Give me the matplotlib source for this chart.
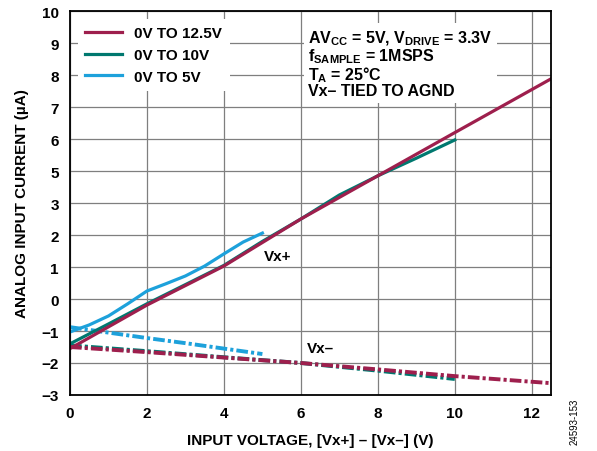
import matplotlib
matplotlib.use("Agg")
from matplotlib import pyplot as plt
import numpy as np

plt.rcParams['font.family'] = ['Liberation Sans', 'DejaVu Sans']
plt.rcParams['font.weight'] = 'bold'
plt.rcParams['axes.labelweight'] = 'bold'
plt.rcParams['mathtext.fontset'] = 'custom'
plt.rcParams['mathtext.rm'] = 'Liberation Sans:bold'
plt.rcParams['mathtext.it'] = 'Liberation Sans:bold'
plt.rcParams['mathtext.bf'] = 'Liberation Sans:bold'

# y values are in grid units of the drawn scale (ticks -3..9, labelled as in the datasheet)
ytick_pos = list(range(-3, 10))
ytick_labels = ["\u22123", "\u22122", "\u22121", "0", "1", "2", "3", "5", "6", "7", "8", "9", "10"]
xticks = [0, 2, 4, 6, 8, 10, 12]

# Vx+ curves
v125_x = [0, 2, 4, 6, 8, 10, 12.5]
v125_pos = [-1.55, -0.19, 1.03, 2.5, 3.85, 5.2, 6.88]
v10_x = [0, 1, 2, 3, 4, 5, 6, 7, 8, 9, 10]
v10_pos = [-1.4, -0.78, -0.15, 0.45, 1.05, 1.8, 2.5, 3.25, 3.85, 4.4, 4.97]
v5_x = [0, 0.5, 1, 1.5, 2, 2.5, 3, 3.5, 4, 4.5, 5]
v5_pos = [-1.03, -0.81, -0.53, -0.15, 0.25, 0.48, 0.72, 1.03, 1.41, 1.78, 2.06]

# Vx- curves
m125_x = [0, 2, 4, 6, 8, 10, 12.5]
m125_pos = [-1.5, -1.66, -1.83, -2.0, -2.2, -2.41, -2.63]
m10_x = [0, 2, 4, 6, 8, 10]
m10_pos = [-1.45, -1.63, -1.82, -2.0, -2.24, -2.5]
m5_x = [0, 1, 2, 3, 4, 5]
m5_pos = [-0.88, -1.05, -1.22, -1.38, -1.55, -1.72]

c125 = '#9E1F4D'
c10 = '#00786F'
c5 = '#1DA1DB'
dashdot = (0, (3, 0.8, 0.8, 0.8))
fs = 11

fig = plt.figure(figsize=(5.97, 4.52), dpi=100)
ax = fig.add_axes([70 / 597, 1 - 396 / 452, 481 / 597, 384 / 452])

ax.plot(m5_x, m5_pos, color=c5, lw=2.8, ls=dashdot)
ax.plot(m10_x, m10_pos, color=c10, lw=2.8, ls=dashdot)
ax.plot(m125_x, m125_pos, color=c125, lw=2.8, ls=dashdot)
ax.plot(v5_x, v5_pos, color=c5, lw=2.3, label="0V TO 5V")
ax.plot(v10_x, v10_pos, color=c10, lw=2.3, label="0V TO 10V")
ax.plot(v125_x, v125_pos, color=c125, lw=2.3, label="0V TO 12.5V")

ax.set_xlim(0, 12.5)
ax.set_ylim(-3, 9)
ax.set_xticks(xticks)
ax.set_yticks(ytick_pos)
ax.set_yticklabels(ytick_labels)
ax.tick_params(length=0, labelsize=fs, pad=8)
for t in ax.get_xticklabels() + ax.get_yticklabels():
    t.set_fontweight('bold')
ax.grid(True, color='#7f7f7f', lw=0.9)
ax.set_axisbelow(True)
for s in ax.spines.values():
    s.set_linewidth(1.3)

h, l = ax.get_legend_handles_labels()
leg = ax.legend(h[::-1], l[::-1], loc='upper left', bbox_to_anchor=(0.0, 1.0),
                prop={'size': fs, 'weight': 'bold'}, frameon=True,
                handlelength=2.4, handletextpad=0.8,
                labelspacing=0.5, borderaxespad=0.5, borderpad=0.5)
leg.get_frame().set_edgecolor('none')
leg.get_frame().set_facecolor('white')
leg.get_frame().set_alpha(1)

ax.text(6.19, 8.45,
        "AV$_\\mathrm{CC}$ = 5V, V$_\\mathrm{DRIVE}$ = 3.3V\n"
        "f$_\\mathrm{SAMPLE}$ = 1MSPS\n"
        "T$_\\mathrm{A}$ = 25\u00b0C\n"
        "Vx\u2013 TIED TO AGND",
        fontsize=11.5, fontweight='bold', va='top', ha='left', linespacing=0.95,
        bbox=dict(facecolor='white', edgecolor='none', pad=3))

ax.text(5.03, 1.34, "Vx+", fontsize=fs, fontweight='bold', ha='left', va='center')
ax.text(6.15, -1.53, "Vx\u2013", fontsize=fs, fontweight='bold', ha='left', va='center')

ax.set_xlabel("INPUT VOLTAGE, [Vx+] \u2013 [Vx\u2013] (V)", fontsize=fs, labelpad=9)
ax.set_ylabel("ANALOG INPUT CURRENT (\u00b5A)", fontsize=fs, labelpad=9)

fig.text(575 / 597, 1 - 422 / 452, "24593-153", rotation=90, fontsize=7,
         fontweight='normal', ha='center', va='center')

fig.savefig("out.png", dpi=100)
